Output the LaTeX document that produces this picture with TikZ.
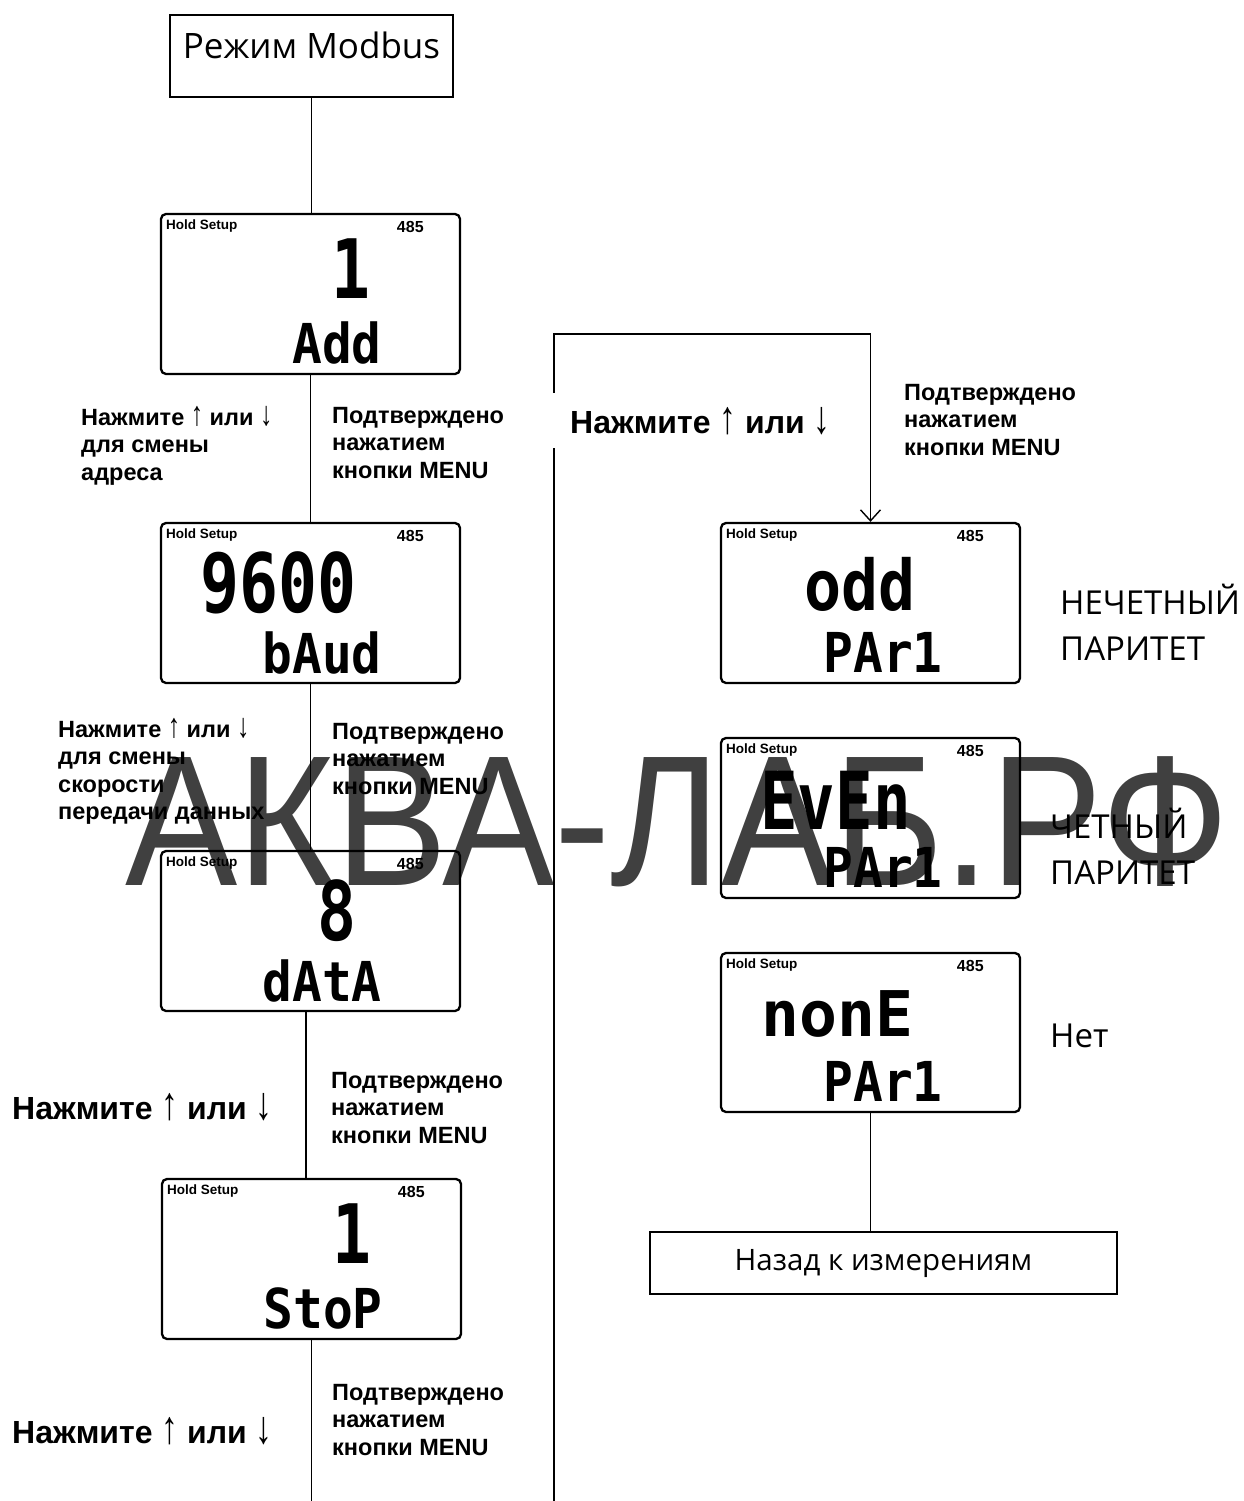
\documentclass[tikz,border=0pt]{standalone}
\usepackage{fontspec}
\usepackage{graphicx}
\setmainfont{Liberation Sans}
\newfontfamily\osans{Open Sans}
\newfontfamily\lcdf{DejaVu Sans Mono}
\usetikzlibrary{arrows.meta}
\newcommand{\fl}[1]{\rule{0pt}{#1pt}}
\newcommand{\ua}{\scalebox{1.05}[1.45]{\mdseries↑}}
\newcommand{\da}{\scalebox{1.05}[1.45]{\mdseries↓}}
\begin{document}
\begin{tikzpicture}[x=1pt,y=-1pt,
  lcd/.style={draw, line width=2.3pt, rounded corners=5pt, minimum width=299pt, minimum height=160pt, inner sep=0pt},
  plainbox/.style={draw, line width=1.7pt, inner sep=0pt},
  conn/.style={line width=1.6pt},
  lbl/.style={font=\bfseries\fontsize{23.5}{27.5}\selectfont, align=left, inner sep=0pt, anchor=north west},
  biglbl/.style={font=\bfseries\fontsize{32}{36}\selectfont, inner sep=0pt, anchor=base west},
  optxt/.style={font=\osans\fontsize{33}{46}\selectfont, align=left, inner sep=0pt, anchor=north west},
  hs/.style={font=\bfseries\fontsize{13.5}{14}\selectfont, inner sep=0pt, anchor=west},
  ch/.style={font=\bfseries\fontsize{16}{16}\selectfont, inner sep=0pt, anchor=east},
  lcdbig/.style={font=\lcdf\bfseries\fontsize{82}{82}\selectfont, inner sep=0pt, anchor=base east},
  lcdsm/.style={font=\lcdf\bfseries\fontsize{55}{55}\selectfont, inner sep=0pt, anchor=base east},
  wmark/.style={font=\fontsize{186}{186}\selectfont, text=black!75, inner sep=0pt, anchor=base west}
]
\useasboundingbox (0,0) rectangle (1244,1501);

% watermark (behind everything)
\node[wmark] (wm) at (125,885) {\scalebox{0.905}[1]{АКВА-ЛАБ.РФ}};

% top box
\node[plainbox, minimum width=283pt, text height=44pt, text depth=38pt, anchor=north,
      font=\osans\fontsize{35}{35}\selectfont] (top) at (311.5,14) {Режим Modbus};

% LCD screens
\node[lcd] (l1) at (310.5,294) {};
\node[lcd] (l2) at (310.5,603) {};
\node[lcd] (l3) at (310.5,931) {};
\node[lcd] (l4) at (311.5,1259) {};
\node[lcd] (l5) at (870.5,603) {};
\node[lcd] (l6) at (870.5,818) {};
\node[lcd, minimum height=159pt] (l7) at (870.5,1032.5) {};

\foreach \s in {l1,l2,l3,l4,l5,l6,l7}{
  \node[hs] (\s h) at ([shift={(6,13)}]\s.north west) {Hold Setup};
  \node[ch] (\s c) at ([shift={(264,14)}]\s.north west) {485};
}

% LCD readings
\node[lcdbig, anchor=base] (l1t) at ([shift={(191,86)}]l1.north west) {\scalebox{0.79}[1]{1}};
\node[lcdsm] (l1b) at ([shift={(222,151)}]l1.north west) {\scalebox{0.9}[1]{Add}};
\node[lcdbig] (l2t) at ([shift={(197,91)}]l2.north west) {\scalebox{0.79}[1]{9600}};
\node[lcdsm] (l2b) at ([shift={(222,152)}]l2.north west) {\scalebox{0.9}[1]{bAud}};
\node[lcdbig] (l3t) at ([shift={(197,91)}]l3.north west) {\scalebox{0.79}[1]{8}};
\node[lcdsm] (l3b) at ([shift={(222,152)}]l3.north west) {\scalebox{0.9}[1]{dAtA}};
\node[lcdbig, anchor=base] (l4t) at ([shift={(191,86)}]l4.north west) {\scalebox{0.79}[1]{1}};
\node[lcdsm] (l4b) at ([shift={(222,151)}]l4.north west) {\scalebox{0.9}[1]{StoP}};
\node[lcdbig, font=\lcdf\bfseries\fontsize{70}{70}\selectfont] (l5t) at ([shift={(196,89)}]l5.north west) {\scalebox{0.88}[1]{odd}};
\node[lcdsm] (l5b) at ([shift={(223,151)}]l5.north west) {\scalebox{0.9}[1]{PAr1}};
\node[lcdbig, font=\lcdf\bfseries\fontsize{80}{80}\selectfont] (l6t) at ([shift={(191,93)}]l6.north west) {\scalebox{0.78}[1]{EvEn}};
\node[lcdsm] (l6b) at ([shift={(223,151)}]l6.north west) {\scalebox{0.9}[1]{PAr1}};
\node[lcdbig, font=\lcdf\bfseries\fontsize{63}{63}\selectfont] (l7t) at ([shift={(194,85)}]l7.north west) {\scalebox{1.0}[1]{nonE}};
\node[lcdsm] (l7b) at ([shift={(223,150)}]l7.north west) {\scalebox{0.9}[1]{PAr1}};

% back box
\node[plainbox, minimum width=467pt, minimum height=62pt, font=\osans\fontsize{29.5}{29.5}\selectfont] (back) at (883.5,1263) {Назад к измерениям};

% connectors
\coordinate (end1) at (311.5,1501);
\coordinate (end2) at (554,1501);
\coordinate (turn) at (554,334);
\draw[conn] (top.south) -- (top.south |- l1.north);
\draw[conn] (l1.south) -- (l2.north);
\draw[conn] (l2.south) -- (l3.north);
\draw[conn] ([xshift=-4.5pt]l3.south) -- ([xshift=-4.5pt]l3.south |- l4.north);
\draw[conn] (l4.south) -- (end1);
\draw[conn, -{Straight Barb[length=11pt, width=20pt, line width=1.4pt]}] (end2) -- (turn) -| (l5.north);
\draw[conn] (l7.south) -- (l7.south |- back.north);

% labels
\node[lbl] (a1) at (81,401) {\fl{24}Нажмите \ua{} или \da\\для смены\\адреса};
\node[lbl] (m1) at (332,399) {\fl{24}Подтверждено\\нажатием\\кнопки MENU};
\node[lbl] (a2) at (58,713) {\fl{24}Нажмите \ua{} или \da\\для смены\\скорости\\передачи данных};
\node[lbl] (m2) at (332,715) {\fl{24}Подтверждено\\нажатием\\кнопки MENU};
\node[biglbl] (a3) at (12,1119) {Нажмите \ua{} или \da};
\node[lbl] (m3) at (331,1064) {\fl{24}Подтверждено\\нажатием\\кнопки MENU};
\node[biglbl] (a4) at (12,1443) {Нажмите \ua{} или \da};
\node[lbl] (m4) at (332,1376) {\fl{24}Подтверждено\\нажатием\\кнопки MENU};
\node[biglbl, fill=white, inner xsep=17pt, inner ysep=14pt] (a5) at (553,433) {Нажмите \ua{} или \da};
\node[lbl] (m5) at (904,376) {\fl{24}Подтверждено\\нажатием\\кнопки MENU};

\node[optxt] (p1) at (1060,580.5) {\fl{34}НЕЧЕТНЫЙ\\ПАРИТЕТ};
\node[optxt] (p2) at (1050,804.5) {\fl{34}ЧЕТНЫЙ\\ПАРИТЕТ};
\node[optxt] (p3) at (1050,1013.5) {\fl{34}Нет};
\end{tikzpicture}
\end{document}
